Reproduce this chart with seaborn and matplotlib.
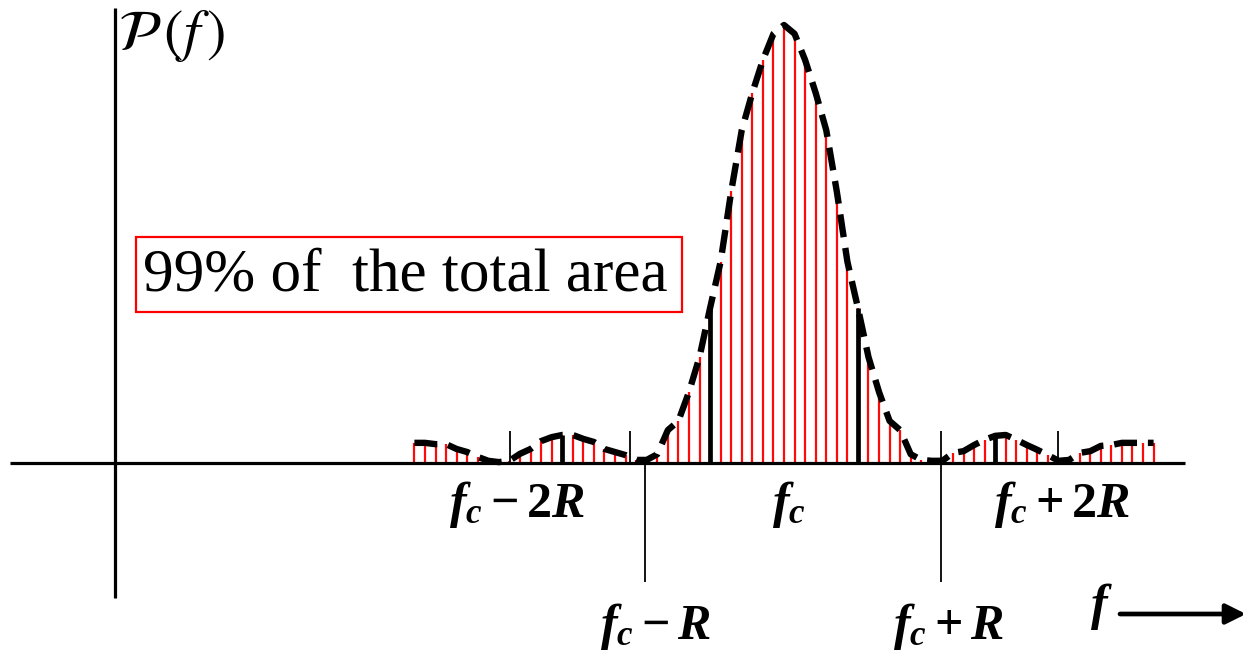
import numpy as np
import matplotlib
matplotlib.use("Agg")
import matplotlib.pyplot as plt
import seaborn as sns
from matplotlib.patches import Rectangle

sns.set_theme(style="white")
plt.rcParams['font.family'] = ['Liberation Serif', 'DejaVu Serif']
plt.rcParams['text.color'] = 'black'
plt.rcParams['mathtext.fontset'] = 'custom'
plt.rcParams['mathtext.it'] = 'Liberation Serif:italic:bold'
plt.rcParams['mathtext.rm'] = 'Liberation Serif:bold'
plt.rcParams['mathtext.bf'] = 'Liberation Serif:bold'

# Spectral lines, spaced R/14 apart around the carrier fc
line_index = list(range(-35, 36))
lines_per_R = 14

# Power of each line, in percent of the peak (fc)
left_sidelobes = [4.6, 4.6, 4.3, 4.3, 3.2, 2.5, 1.4, 0.5, 0.2, 0.5, 2.1,
                  3.2, 5.0, 5.9, 6.4, 6.4, 5.5, 4.8, 3.2, 2.5, 1.8, 0.7]
main_lobe = [0.7, 2.0, 7.5, 9.6, 16.2, 24.2, 35.4, 46.0, 62.0, 76.0, 84.5, 92.0, 98.0,
             100.0,
             98.0, 92.0, 84.5, 76.0, 62.0, 46.0, 35.4, 24.2, 16.2, 9.6, 7.5, 2.0, 0.7]
right_sidelobes = [0.5, 0.5, 2.3, 2.7, 4.1, 5.3, 6.2, 6.4, 5.3, 4.1, 3.0,
                   1.8, 0.5, 0.7, 2.3, 2.7, 3.9, 4.1, 4.6, 4.6, 4.6, 4.6]
power = left_sidelobes + main_lobe + right_sidelobes

# Lines drawn heavier (band edges)
marked_lines = [-21, -7, 7, 20]

# Axis marks (offsets from fc in units of R) and their labels
upper_marks = [-1.85, -1.04, 1.06, 1.85]
lower_marks = [-0.94, 1.06]
upper_labels = [r'$f_c - 2R$', r'$f_c$', r'$f_c + 2R$']
lower_labels = [r'$f_c - R$', r'$f_c + R$']

freq = np.array(line_index) / lines_per_R
power = np.array(power)

# ---- layout helpers: canvas pixels -> data units ----
X0, PXR = 784.0, 147.84   # fc position, pixels per R
Y0, PXV = 463.0, 4.38     # baseline, pixels per percent


def dx(p):
    return (p - X0) / PXR


def dy(p):
    return (Y0 - p) / PXV


fig = plt.figure(figsize=(12.47, 6.52), dpi=100)
ax = fig.add_axes([0, 0, 1, 1])
ax.set_xlim(dx(0), dx(1247))
ax.set_ylim(dy(652), dy(0))
ax.axis('off')

# axes lines
ax.plot([dx(10), dx(1185)], [0, 0], color='black', lw=2.3, solid_capstyle='butt', zorder=4)
ax.plot([dx(115), dx(115)], [dy(8), dy(598)], color='black', lw=2.3, solid_capstyle='butt', zorder=4)

# spectral lines
ax.vlines(freq, 0, power, color='#ff0a0a', lw=1.6, zorder=2)
mk = np.isin(line_index, marked_lines)
ax.vlines(freq[mk], 0, power[mk], color='black', lw=3.4, zorder=3)

# envelope
sns.lineplot(x=freq, y=power, ax=ax, color='black', lw=4.6,
             linestyle=(0, (3.6, 1.7)), zorder=5)

# marks on the frequency axis
ax.vlines(upper_marks, 0, dy(431), color='black', lw=1.3, zorder=4)
ax.vlines(lower_marks, dy(582), 0, color='black', lw=1.3, zorder=4)

# labels
for xp, lab in zip([517, 789, 1062], upper_labels):
    ax.text(dx(xp), dy(505), lab, fontsize=36, ha='center', va='center')
for xp, lab in zip([655, 948], lower_labels):
    ax.text(dx(xp), dy(626), lab, fontsize=36, ha='center', va='center')

ax.text(dx(118), dy(36), r'$\mathcal{P}\,(f\,)$', math_fontfamily='stix',
        fontsize=42, ha='left', va='center')

# f axis arrow
ax.text(dx(1101), dy(606), r'$f$', fontsize=36, ha='center', va='center')
ax.annotate('', xy=(dx(1246), dy(614)), xytext=(dx(1120), dy(614)),
            arrowprops=dict(arrowstyle='-|>', lw=3.4, color='black', mutation_scale=30,
                            shrinkA=0, shrinkB=0))

# annotation box
ax.add_patch(Rectangle((dx(136), dy(312)), dx(682) - dx(136), dy(237) - dy(312),
                       fc='white', ec='#ff0000', lw=1.6, zorder=6))
ax.text(dx(405), dy(276), '99% of  the total area', fontsize=44,
        family='Liberation Serif', ha='center', va='center', zorder=7)

fig.savefig('out.png', dpi=100)
